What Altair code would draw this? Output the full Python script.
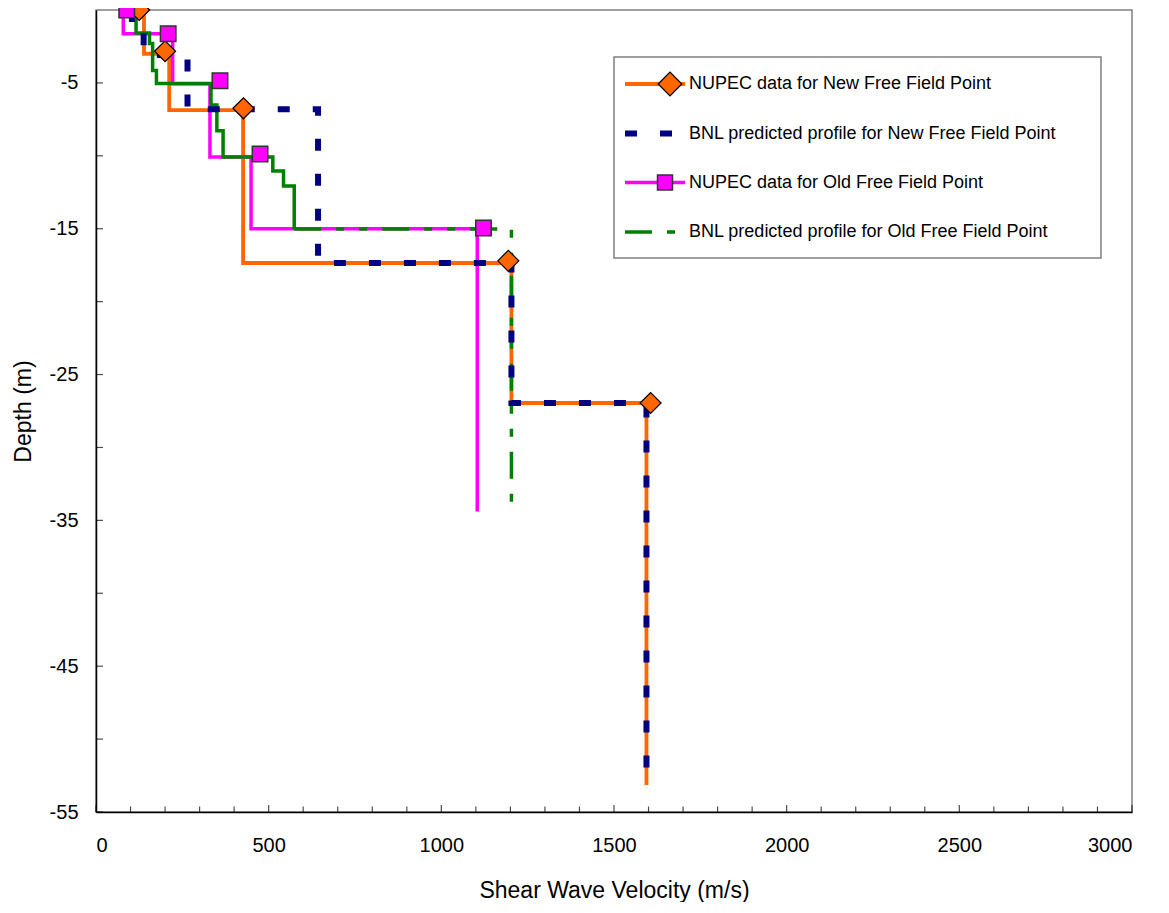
import altair as alt
import pandas as pd

FONT = "Liberation Sans"

# ---------------- data ----------------
# NUPEC data for New Free Field Point: layer velocities and layer boundaries
new_nupec_vel = [139, 212, 426, 1203, 1594]
new_nupec_depth = [0, -3.0, -6.86, -17.35, -26.95, -53.15]
new_nupec_mk_vel = [125, 200, 427, 1194, 1606]
new_nupec_mk_depth = [0, -2.83, -6.74, -17.2, -26.95]

# BNL predicted profile for New Free Field Point
new_bnl_vel = [104, 138, 265, 643, 1203, 1594]
new_bnl_depth = [0, -1.17, -3.09, -6.8, -17.35, -26.95, -53.15]

# NUPEC data for Old Free Field Point
old_nupec_vel = [79, 222, 330, 449, 1104]
old_nupec_depth = [0, -1.63, -5.05, -10.08, -15.0, -34.4]
old_nupec_mk_vel = [89, 209, 359, 475, 1122]
old_nupec_mk_depth = [0, -1.63, -4.85, -9.88, -14.95]

# BNL predicted profile for Old Free Field Point (upper steps drawn solid)
old_bnl_vel = [116, 155, 164, 175, 333, 350, 368, 512, 543, 574]
old_bnl_depth = [0, -1.57, -2.3, -4.15, -5.04, -6.52, -8.28, -10.08, -11.04,
                 -12.07, -15.02]
# ... and its deeper part (dashed)
old_bnl_deep_vel = [574, 1203, 1203]
old_bnl_deep_depth = [-15.02, -15.02, -34.43]

series_names = [
    "NUPEC data for New Free Field Point",
    "BNL predicted profile for New Free Field Point",
    "NUPEC data for Old Free Field Point",
    "BNL predicted profile for Old Free Field Point",
]

x_label_values = [0, 500, 1000, 1500, 2000, 2500, 3000]
x_minor_values = [v for v in range(0, 3001, 100) if v % 500 != 0]
y_label_values = [-55, -45, -35, -25, -15, -5]
y_tick_values = [-55, -50, -45, -40, -35, -30, -25, -20, -15, -10, -5]

# ---------------- helpers ----------------
def steps(vel, depth):
    rows = []
    for i, v in enumerate(vel):
        rows.append({"v": v, "d": depth[i], "k": 2 * i})
        rows.append({"v": v, "d": depth[i + 1], "k": 2 * i + 1})
    return pd.DataFrame(rows)


def polyline(vel, depth):
    return pd.DataFrame({"v": vel, "d": depth, "k": list(range(len(vel)))})


X = alt.X(
    "v:Q",
    scale=alt.Scale(domain=[0, 3000], nice=False, zero=False),
    axis=alt.Axis(values=x_label_values, ticks=False, grid=False,
                  labelPadding=23, titlePadding=24, format="d"),
    title="Shear Wave Velocity (m/s)",
)
Y = alt.Y(
    "d:Q",
    scale=alt.Scale(domain=[-55, 0], nice=False, zero=False),
    axis=alt.Axis(values=y_label_values, ticks=False, grid=False,
                  labelPadding=18, titlePadding=14,
                  labelExpr="'' + datum.value"),
    title="Depth (m)",
)


def line(df, color, width, dash=None):
    kw = dict(color=color, strokeWidth=width, strokeCap="butt", strokeJoin="miter", clip=True)
    if dash:
        kw["strokeDash"] = dash
    return alt.Chart(df).mark_line(**kw).encode(x=X, y=Y, order=alt.Order("k:Q"))


ORANGE = "#FF6600"
PINK = "#FF00FF"
NAVY = "#000080"
GREEN = "#008000"
NAVY_DASH = [12, 23]
GREEN_DASH = [27, 15, 8, 15, 8, 15]

# inner tick marks
x_major_ticks = alt.Chart(pd.DataFrame({"v": x_label_values, "d": [-55] * len(x_label_values)})).mark_tick(
    orient="vertical", size=7, thickness=1.2, color="black", yOffset=-3.5).encode(x=X, y=Y)
x_minor_ticks = alt.Chart(pd.DataFrame({"v": x_minor_values, "d": [-55] * len(x_minor_values)})).mark_tick(
    orient="vertical", size=5.5, thickness=1.2, color="black", yOffset=-2.75).encode(x=X, y=Y)
y_ticks = alt.Chart(pd.DataFrame({"v": [0] * len(y_tick_values), "d": y_tick_values})).mark_tick(
    orient="horizontal", size=7, thickness=1.2, color="black", xOffset=3.5).encode(x=X, y=Y)

orange_line = line(steps(new_nupec_vel, new_nupec_depth), ORANGE, 3.8)
pink_line = line(steps(old_nupec_vel, old_nupec_depth), PINK, 3.5)
green_line = line(steps(old_bnl_vel, old_bnl_depth), GREEN, 3.5)
green_deep = line(polyline(old_bnl_deep_vel, old_bnl_deep_depth), GREEN, 3.5, GREEN_DASH)
navy_line = line(steps(new_bnl_vel, new_bnl_depth), NAVY, 6, NAVY_DASH)

diamonds = alt.Chart(pd.DataFrame({"v": new_nupec_mk_vel, "d": new_nupec_mk_depth})).mark_point(
    shape="diamond", size=441, filled=True, fill=ORANGE, stroke="black", strokeWidth=1.2,
    opacity=1).encode(x=X, y=Y)
squares = alt.Chart(pd.DataFrame({"v": old_nupec_mk_vel, "d": old_nupec_mk_depth})).mark_point(
    shape="square", size=240, filled=True, fill=PINK, stroke="#333333", strokeWidth=1.5,
    opacity=1).encode(x=X, y=Y)

# ---------------- legend (drawn by hand) ----------------
one = pd.DataFrame({"a": [0]})
legend_layers = [
    alt.Chart(one).mark_rect(fill="white", stroke="#808080", strokeWidth=1.5).encode(
        x=alt.value(518), x2=alt.value(1005), y=alt.value(47), y2=alt.value(248))
]
entry_y = [74, 123.5, 172.5, 222]
entry_style = [
    dict(color=ORANGE, strokeWidth=3.8),
    dict(color=NAVY, strokeWidth=6, strokeDash=NAVY_DASH),
    dict(color=PINK, strokeWidth=3.5),
    dict(color=GREEN, strokeWidth=3.5, strokeDash=GREEN_DASH),
]
for name, yy, st in zip(series_names, entry_y, entry_style):
    legend_layers.append(
        alt.Chart(one).mark_rule(strokeCap="butt", **st).encode(
            x=alt.value(529), x2=alt.value(589), y=alt.value(yy)))
    legend_layers.append(
        alt.Chart(one).mark_text(text=name, align="left", baseline="middle", font=FONT,
                                 fontSize=18, color="black").encode(
            x=alt.value(593), y=alt.value(yy)))
legend_layers.append(
    alt.Chart(one).mark_point(shape="diamond", size=560, filled=True, fill=ORANGE,
                              stroke="black", strokeWidth=1.2, opacity=1).encode(
        x=alt.value(574), y=alt.value(entry_y[0])))
legend_layers.append(
    alt.Chart(one).mark_point(shape="square", size=225, filled=True, fill=PINK,
                              stroke="#333333", strokeWidth=1.5, opacity=1).encode(
        x=alt.value(569), y=alt.value(entry_y[2])))

chart = alt.layer(
    x_minor_ticks, x_major_ticks, y_ticks,
    orange_line, pink_line, green_line, green_deep, navy_line,
    diamonds, squares, *legend_layers,
).properties(
    width=1036, height=802,
    autosize=alt.AutoSizeParams(type="none"),
    padding={"left": 88, "top": 2, "right": 20, "bottom": 90},
).configure_view(
    stroke="#808080", strokeWidth=1.5
).configure_axis(
    labelFont=FONT, titleFont=FONT, labelFontSize=20, titleFontSize=23,
    titleFontWeight="normal", labelColor="black", titleColor="black",
    domainColor="black", domainWidth=1.5,
)

chart.save("out.html", embed_options={"renderer": "svg", "actions": False})
